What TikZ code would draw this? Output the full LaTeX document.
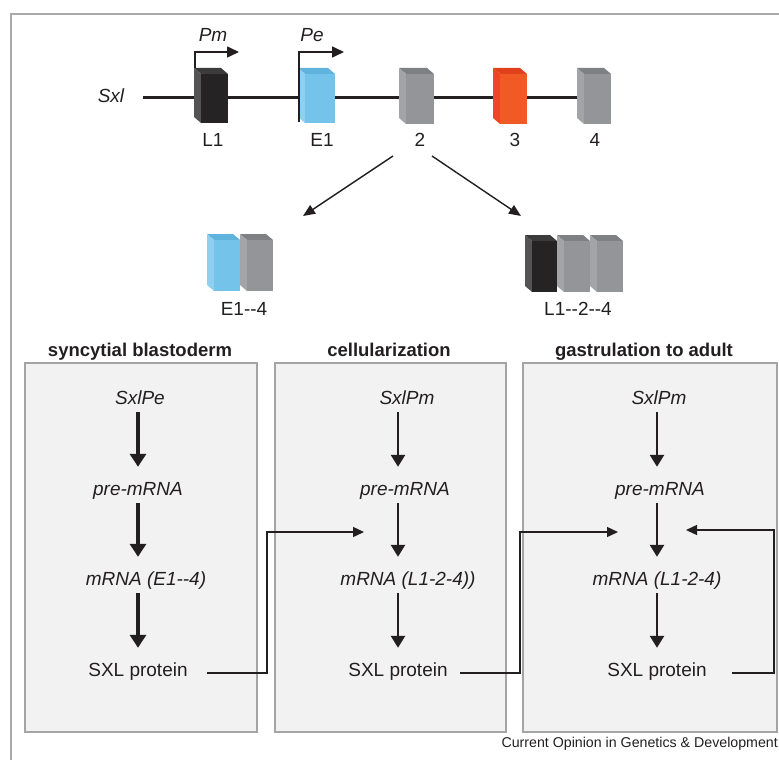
\documentclass[tikz,border=0pt]{standalone}
\usepackage{fontspec}
\setmainfont{Liberation Sans}
\usetikzlibrary{arrows.meta}

\definecolor{ink}{HTML}{231F20}
\definecolor{framegray}{HTML}{A9A9A9}
\definecolor{panelfill}{HTML}{F2F2F2}
\definecolor{paneledge}{HTML}{A4A4A4}
% exon colours: front / side / top
\definecolor{blkF}{HTML}{262324}\definecolor{blkS}{HTML}{545454}\definecolor{blkT}{HTML}{3B3B3B}
\definecolor{bluF}{HTML}{74C3EA}\definecolor{bluS}{HTML}{8FD0F0}\definecolor{bluT}{HTML}{60B3DD}
\definecolor{gryF}{HTML}{939598}\definecolor{gryS}{HTML}{A2A4A7}\definecolor{gryT}{HTML}{7E8083}
\definecolor{redF}{HTML}{F15A24}\definecolor{redS}{HTML}{EE4526}\definecolor{redT}{HTML}{E0401C}

\newcommand\twohyph{\mbox{-}\mbox{-}}

% 3-D exon block: left x, top y, right x, bottom y, colour prefix
\newcommand\exonblock[5]{%
  \fill[#5T] (#1,#2) -- (#3-7,#2) -- (#3,#2+6) -- (#1+7,#2+6) -- cycle;
  \fill[#5S] (#1,#2) -- (#1+7,#2+6) -- (#1+7,#4) -- (#1,#4-6) -- cycle;
  \fill[#5F] (#1+7,#2+6) rectangle (#3,#4);
}

\tikzset{
  lbl/.style={anchor=base, inner sep=0pt, text=ink, font=\fontsize{19}{22}\selectfont},
  ilbl/.style={lbl, font=\fontsize{19}{22}\selectfont\itshape},
  boxlbl/.style={lbl, text height=14pt, text depth=4pt},
  iboxlbl/.style={ilbl, text height=14pt, text depth=4pt},
  title/.style={lbl, font=\fontsize{18.5}{22}\selectfont\bfseries},
  panel/.style={draw=paneledge, fill=panelfill, line width=1.5pt, inner sep=0pt, minimum height=369pt},
  bigarrow/.style={draw=ink, line width=4.5pt, -{Triangle[length=13pt,width=16pt]}, shorten <=4pt, shorten >=14pt},
  midarrow/.style={draw=ink, line width=2.6pt, -{Triangle[length=12pt,width=14pt]}, shorten <=4pt, shorten >=14pt},
  thinarrow/.style={draw=ink, line width=1.4pt, -{Triangle[length=12pt,width=10pt]}},
  promoter/.style={draw=ink, line width=1.6pt, -{Triangle[length=12pt,width=11pt]}},
  linker/.style={draw=ink, line width=1.4pt, -{Triangle[length=11pt,width=10pt]}},
}

\begin{document}
\begin{tikzpicture}[x=1pt, y=-1pt]
\useasboundingbox (0,0) rectangle (779,760);

% outer frame
\draw[framegray, line width=1.8pt] (779,14) -- (11,14) -- (11,760);

% ---------------- gene model ----------------
\node[ilbl] (sxl) at (111,102) {Sxl};
\coordinate (g0) at (143,97);
\coordinate (g1) at (577,97);
\draw[ink, line width=3pt] (g0) -- (g1);

\exonblock{194}{68}{228}{123}{blk}
\exonblock{298}{68}{335}{123}{blu}
\exonblock{399}{68}{434}{124}{gry}
\exonblock{493}{68}{527}{124}{red}
\exonblock{577}{68}{611}{124}{gry}

% promoters
\coordinate (pm0) at (195,68);
\coordinate (pm1) at (239,52);
\coordinate (pe0) at (299,122);
\coordinate (pe1) at (344,52);
\draw[promoter] (pm0) |- (pm1);
\draw[promoter] (pe0) |- (pe1);
\node[ilbl] (pm) at (213,42) {Pm};
\node[ilbl] (pe) at (312,42) {Pe};

% exon labels
\node[lbl] (exL1) at (213,146) {L1};
\node[lbl] (exE1) at (322,146) {E1};
\node[lbl] (ex2) at (420,146) {2};
\node[lbl] (ex3) at (515,146) {3};
\node[lbl] (ex4) at (595,146) {4};

% alternative splice products
\coordinate (spl) at (393,156);
\coordinate (spr) at (432,156);
\coordinate (fem) at (303,216);
\coordinate (mal) at (521,216);
\draw[thinarrow] (spl) -- (fem);
\draw[thinarrow] (spr) -- (mal);

\exonblock{207}{234}{240}{291}{blu}
\exonblock{240}{234}{273}{291}{gry}
\node[lbl] (prodE) at (244,315) {E1\twohyph4};

\exonblock{525}{235}{557}{292}{blk}
\exonblock{557}{235}{590}{292}{gry}
\exonblock{590}{235}{623}{292}{gry}
\node[lbl] (prodL) at (578,315) {L1\twohyph2\twohyph4};

% ---------------- stage panels ----------------
\node[title] (t1) at (140,356) {syncytial blastoderm};
\node[title] (t2) at (389,356) {cellularization};
\node[title] (t3) at (644,356) {gastrulation to adult};

\node[panel, minimum width=232pt] (pan1) at (141,547.5) {};
\node[panel, minimum width=231pt] (pan2) at (390.5,547.5) {};
\node[panel, minimum width=254pt] (pan3) at (650,547.5) {};

% panel 1
\coordinate (colA) at (138,0);
\node[iboxlbl] (a1) at (140,404) {SxlPe};
\node[iboxlbl] (a2) at (138,495) {pre-mRNA};
\node[iboxlbl] (a3) at (146,585) {mRNA (E1\twohyph4)};
\node[boxlbl]  (a4) at (138,676) {SXL protein};
\draw[bigarrow] (colA |- a1.south) -- (colA |- a2.north);
\draw[bigarrow] (colA |- a2.south) -- (colA |- a3.north);
\draw[bigarrow] (colA |- a3.south) -- (colA |- a4.north);

% panel 2
\coordinate (colB) at (398,0);
\node[iboxlbl] (b1) at (407,404) {SxlPm};
\node[iboxlbl] (b2) at (405,495) {pre-mRNA};
\node[iboxlbl] (b3) at (408,585) {mRNA (L1-2-4))};
\node[boxlbl]  (b4) at (398,676) {SXL protein};
\draw[midarrow] (colB |- b1.south) -- (colB |- b2.north);
\draw[midarrow] (colB |- b2.south) -- (colB |- b3.north);
\draw[midarrow] (colB |- b3.south) -- (colB |- b4.north);

% panel 3
\coordinate (colC) at (657,0);
\node[iboxlbl] (c1) at (659,404) {SxlPm};
\node[iboxlbl] (c2) at (660,495) {pre-mRNA};
\node[iboxlbl] (c3) at (657,585) {mRNA (L1-2-4)};
\node[boxlbl]  (c4) at (657,676) {SXL protein};
\draw[midarrow] (colC |- c1.south) -- (colC |- c2.north);
\draw[midarrow] (colC |- c2.south) -- (colC |- c3.north);
\draw[midarrow] (colC |- c3.south) -- (colC |- c4.north);

% SXL protein carried forward between stages
\coordinate (o1) at (207,673);
\coordinate (k1) at (267,532);
\coordinate (i1) at (364,532);
\coordinate (o2) at (460,673);
\coordinate (k2) at (520,532);
\coordinate (i2) at (618,532);
\coordinate (o3) at (732,673);
\coordinate (k3) at (774,530);
\coordinate (i3) at (686,530);
\draw[linker] (o1) -| (k1) -- (i1);
\draw[linker] (o2) -| (k2) -- (i2);
\draw[linker] (o3) -| (k3) -- (i3);

% credit line
\node[anchor=base east, inner sep=0pt, text=ink, font=\fontsize{14.2}{16}\selectfont] (credit) at (778,747) {Current Opinion in Genetics \& Development};
\end{tikzpicture}
\end{document}
